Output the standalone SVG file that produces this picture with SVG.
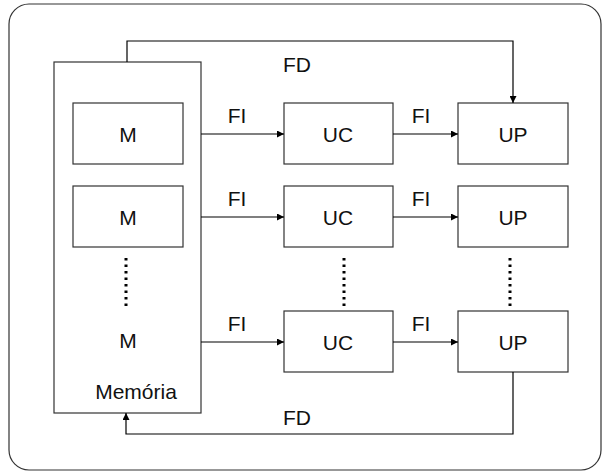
<svg xmlns="http://www.w3.org/2000/svg" width="608" height="475" viewBox="0 0 608 475">
<defs>
<style>
.box{fill:#fff;stroke:#333;stroke-width:1.2}
.t{font-family:"Liberation Sans",Arial,sans-serif;font-size:21px;fill:#111;text-anchor:middle}
.c{fill:none;stroke:#000;stroke-width:1.2}
.dot{fill:none;stroke:#000;stroke-width:3;stroke-dasharray:2.5 4}
</style>
<marker id="ah" viewBox="0 0 10 10" refX="10" refY="5" markerWidth="7" markerHeight="7" orient="auto" markerUnits="userSpaceOnUse"><path d="M0,0 L10,5 L0,10 z" fill="#000"/></marker>
</defs>
<rect x="9" y="4" width="592" height="466" rx="20" ry="20" fill="#fff" stroke="#333" stroke-width="1.2"/>
<g id="memoria">
<rect class="box" x="54" y="62" width="147" height="351"/>
<text class="t" x="136" y="399">Memória</text>
<text class="t" x="128" y="348">M</text>
<line class="dot" x1="126" y1="258" x2="126" y2="307"/>
</g>
<g id="m1"><rect class="box" x="73" y="103" width="110" height="61"/><text class="t" x="128" y="141.5">M</text></g>
<g id="m2"><rect class="box" x="73" y="186" width="110" height="61"/><text class="t" x="128" y="224.5">M</text></g>
<g id="uc1"><rect class="box" x="284" y="103" width="109" height="61"/><text class="t" x="338" y="141.5">UC</text></g>
<g id="uc2"><rect class="box" x="284" y="186" width="109" height="61"/><text class="t" x="338" y="224.5">UC</text></g>
<g id="uc3"><rect class="box" x="284" y="311" width="109" height="61"/><text class="t" x="338" y="349.5">UC</text></g>
<g id="up1"><rect class="box" x="458" y="103" width="110" height="61"/><text class="t" x="513" y="141.5">UP</text></g>
<g id="up2"><rect class="box" x="458" y="186" width="110" height="61"/><text class="t" x="513" y="224.5">UP</text></g>
<g id="up3"><rect class="box" x="458" y="311" width="110" height="61"/><text class="t" x="513" y="349.5">UP</text></g>
<g id="connectors">
<line class="dot" x1="344" y1="258" x2="344" y2="307"/>
<line class="dot" x1="510" y1="258" x2="510" y2="307"/>
<path class="c" d="M201,134 H284" marker-end="url(#ah)"/>
<path class="c" d="M201,217 H284" marker-end="url(#ah)"/>
<path class="c" d="M201,342 H284" marker-end="url(#ah)"/>
<path class="c" d="M393,134 H458" marker-end="url(#ah)"/>
<path class="c" d="M393,217 H458" marker-end="url(#ah)"/>
<path class="c" d="M393,342 H458" marker-end="url(#ah)"/>
<path class="c" d="M127,62 V41 H513 V103" marker-end="url(#ah)"/>
<path class="c" d="M513,372 V434 H126 V413" marker-end="url(#ah)"/>
<text class="t" x="237" y="123">FI</text>
<text class="t" x="237" y="206">FI</text>
<text class="t" x="237" y="331">FI</text>
<text class="t" x="421" y="123">FI</text>
<text class="t" x="421" y="206">FI</text>
<text class="t" x="421" y="331">FI</text>
<text class="t" x="297" y="72">FD</text>
<text class="t" x="297" y="425">FD</text>
</g>
</svg>
